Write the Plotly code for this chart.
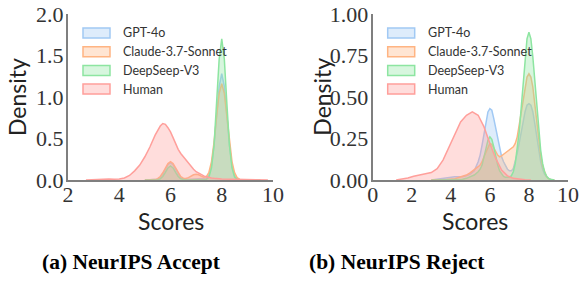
import plotly.graph_objects as go

# ---------------- data ----------------
series_names = ["GPT-4o", "Claude-3.7-Sonnet", "DeepSeep-V3", "Human"]
line_colors = ["#a1c9f4", "#ffb482", "#8de5a1", "#ff9f9b"]
fill_colors = ["rgba(161,201,244,0.35)", "rgba(255,180,130,0.35)",
               "rgba(141,229,161,0.35)", "rgba(255,159,155,0.35)"]

# (a) NeurIPS Accept
x_ai_accept = [5.0, 5.4, 5.5, 5.6, 5.7, 5.8, 5.9, 6.0, 6.1, 6.2, 6.3, 6.4,
               6.5, 6.6, 6.7, 6.8, 6.9, 7.0, 7.1, 7.2, 7.3, 7.4,
               7.5, 7.6, 7.7, 7.8, 7.9, 8.0, 8.1, 8.2, 8.3, 8.4, 8.5, 8.6, 8.7,
               9.0, 9.5]
gpt_accept = [0.0, 0.002, 0.009, 0.028, 0.068, 0.127, 0.185, 0.21, 0.185, 0.127, 0.068, 0.028,
              0.012, 0.008, 0.008, 0.01, 0.012, 0.013, 0.012, 0.01, 0.012, 0.022,
              0.06, 0.175, 0.416, 0.777, 1.129, 1.28, 1.129, 0.777, 0.416, 0.173, 0.056, 0.014, 0.003,
              0.0, 0.0]
claude_accept = [0.0, 0.005, 0.017, 0.042, 0.087, 0.146, 0.198, 0.22, 0.198, 0.146, 0.087, 0.042,
                 0.022, 0.018, 0.028, 0.046, 0.063, 0.07, 0.063, 0.046, 0.035, 0.041,
                 0.093, 0.222, 0.458, 0.768, 1.046, 1.16, 1.046, 0.768, 0.458, 0.222, 0.088, 0.028, 0.007,
                 0.0, 0.0]
deepseek_accept = [0.0, 0.0, 0.004, 0.014, 0.042, 0.092, 0.146, 0.17, 0.146, 0.092, 0.042, 0.014,
                   0.004, 0.001, 0.0, 0.0, 0.0, 0.0, 0.0, 0.0, 0.001, 0.007,
                   0.036, 0.145, 0.42, 0.92, 1.46, 1.70, 1.46, 0.92, 0.42, 0.145, 0.036, 0.007, 0.001,
                   0.0, 0.0]
x_human_accept = [2.7, 3.0, 3.2, 3.4, 3.6, 3.8, 4.0, 4.2, 4.4, 4.6, 4.8,
                  5.0, 5.2, 5.4, 5.6,
                  5.7, 5.8, 5.9, 6.0, 6.1, 6.2, 6.3, 6.4, 6.5, 6.6, 6.7, 6.8, 6.9, 7.0,
                  7.1, 7.2, 7.3, 7.4, 7.5, 7.6, 7.7, 7.8,
                  8.0, 8.5, 9.0, 9.5, 9.8]
human_accept = [0.0, 0.006, 0.01, 0.012, 0.011, 0.01, 0.012, 0.025, 0.055, 0.11, 0.18,
                0.28, 0.40, 0.54, 0.65,
                0.68, 0.67, 0.63, 0.58, 0.51, 0.43, 0.37, 0.32, 0.28, 0.24, 0.20, 0.17, 0.13, 0.10,
                0.08, 0.06, 0.05, 0.04, 0.03, 0.025, 0.02, 0.016,
                0.012, 0.008, 0.005, 0.002, 0.0]

# (b) NeurIPS Reject
x_ai_reject = [3.0, 3.4, 3.8, 4.2, 4.6, 4.8, 5.0, 5.2, 5.4,
               5.5, 5.6, 5.7, 5.8, 5.9, 6.0, 6.1, 6.2, 6.3, 6.4,
               6.5, 6.6, 6.7, 6.8, 6.9, 7.0, 7.1, 7.2, 7.3, 7.4,
               7.5, 7.6, 7.7, 7.8, 7.9, 8.0, 8.1, 8.2, 8.3, 8.4,
               8.5, 8.6, 8.7, 8.8, 8.9, 9.0, 9.1, 9.3]
gpt_reject = [0.0, 0.008, 0.016, 0.02, 0.02, 0.025, 0.035, 0.055, 0.11,
              0.15, 0.21, 0.28, 0.35, 0.41, 0.43, 0.42, 0.37, 0.31, 0.24,
              0.18, 0.14, 0.11, 0.085, 0.065, 0.055, 0.055, 0.07, 0.11, 0.16,
              0.22, 0.29, 0.36, 0.41, 0.45, 0.46, 0.45, 0.41, 0.34, 0.26,
              0.18, 0.11, 0.065, 0.035, 0.018, 0.008, 0.003, 0.0]
claude_reject = [0.0, 0.0, 0.003, 0.008, 0.02, 0.03, 0.045, 0.06, 0.08,
                 0.09, 0.11, 0.14, 0.17, 0.2, 0.22, 0.215, 0.195, 0.17, 0.15,
                 0.14, 0.145, 0.155, 0.165, 0.175, 0.18, 0.19, 0.2, 0.22, 0.26,
                 0.33, 0.41, 0.49, 0.56, 0.62, 0.64, 0.62, 0.56, 0.46, 0.35,
                 0.24, 0.15, 0.085, 0.045, 0.02, 0.009, 0.003, 0.0]
deepseek_reject = [0.0, 0.0, 0.0, 0.0, 0.004, 0.01, 0.018, 0.03, 0.05,
                   0.065, 0.09, 0.14, 0.19, 0.24, 0.26, 0.245, 0.2, 0.14, 0.09,
                   0.055, 0.035, 0.022, 0.016, 0.015, 0.018, 0.025, 0.05, 0.1, 0.18,
                   0.29, 0.43, 0.59, 0.74, 0.85, 0.89, 0.85, 0.74, 0.59, 0.43,
                   0.29, 0.18, 0.1, 0.05, 0.025, 0.01, 0.004, 0.0]
x_human_reject = [1.2, 1.5, 1.8, 2.1, 2.4, 2.7, 3.0, 3.3, 3.6, 3.9, 4.2, 4.5,
                  4.8, 5.1, 5.4, 5.7, 6.0, 6.3, 6.6, 6.9, 7.2, 7.5, 7.8, 8.1]
human_reject = [0.0, 0.004, 0.012, 0.022, 0.032, 0.038, 0.045, 0.068, 0.12, 0.2, 0.28, 0.35,
                0.39, 0.41, 0.39, 0.32, 0.22, 0.13, 0.06, 0.025, 0.01, 0.004, 0.001, 0.0]

accept_x = [x_ai_accept, x_ai_accept, x_ai_accept, x_human_accept]
accept_y = [gpt_accept, claude_accept, deepseek_accept, human_accept]
reject_x = [x_ai_reject, x_ai_reject, x_ai_reject, x_human_reject]
reject_y = [gpt_reject, claude_reject, deepseek_reject, human_reject]

x_ticks_accept = [2, 4, 6, 8, 10]
y_ticks_accept = [0.0, 0.5, 1.0, 1.5, 2.0]
x_ticks_reject = [0, 2, 4, 6, 8, 10]
y_ticks_reject = [0.0, 0.25, 0.50, 0.75, 1.00]
captions = ["(a) NeurIPS Accept", "(b) NeurIPS Reject"]

# ---------------- layout helpers (pixel -> paper) ----------------
W, H = 580, 284
def px(x):
    return x / W
def py(y):
    return 1 - y / H

fig = go.Figure()

panels = [("x", "y", accept_x, accept_y), ("x2", "y2", reject_x, reject_y)]
for xa, ya, xs, ys in panels:
    for i in range(4):
        fig.add_trace(go.Scatter(
            x=xs[i], y=ys[i], xaxis=xa, yaxis=ya, mode="lines",
            line=dict(color=line_colors[i], width=1.5),
            fill="tozeroy", fillcolor=fill_colors[i],
            showlegend=False, hoverinfo="skip"))

tick_font = dict(family="Liberation Serif", size=22, color="#333333")
axis_common = dict(showgrid=False, zeroline=False, showline=True, linecolor="#7f7f7f",
                   linewidth=2, ticks="", ticklen=0, tickfont=tick_font, automargin=False)

panel_left = [68, 372.7]
panel_width = 205
left_dom = [px(68), px(273)]
right_dom = [px(372.7), px(568)]
y_dom = [py(180), py(14)]

fig.update_layout(
    width=W, height=H,
    margin=dict(l=0, r=0, t=0, b=0, pad=0, autoexpand=False),
    paper_bgcolor="white", plot_bgcolor="white", showlegend=False,
    xaxis=dict(domain=left_dom, range=[2, 10], tickvals=x_ticks_accept,
               anchor="y", ticklabelstandoff=-6, **axis_common),
    yaxis=dict(domain=y_dom, range=[0, 2.0], tickvals=y_ticks_accept, tickformat=".1f",
               anchor="x", ticklabelstandoff=-2, **axis_common),
    xaxis2=dict(domain=right_dom, range=[0, 10], tickvals=x_ticks_reject,
                anchor="y2", ticklabelstandoff=-6, **axis_common),
    yaxis2=dict(domain=y_dom, range=[0, 1.0], tickvals=y_ticks_reject, tickformat=".2f",
                anchor="x2", ticklabelstandoff=-2, **axis_common),
)

title_font = dict(family="Lato", size=23, color="#222222")
caption_centers = [131, 397]
annotations = []
shapes = []
for k, x0 in enumerate(panel_left):
    x1 = x0 + panel_width
    annotations.append(dict(x=px(x0 - 51), y=py(97), xref="paper", yref="paper",
                            text="Density", textangle=-90, showarrow=False,
                            font=title_font, xanchor="center", yanchor="middle"))
    annotations.append(dict(x=px((x0 + x1) / 2), y=py(221), xref="paper", yref="paper",
                            text="Scores", showarrow=False, font=title_font,
                            xanchor="center", yanchor="middle"))
    annotations.append(dict(x=px(caption_centers[k]), y=py(262), xref="paper", yref="paper",
                            text="<b>" + captions[k] + "</b>", showarrow=False,
                            font=dict(family="Liberation Serif", size=21.5, color="black"),
                            xanchor="center", yanchor="middle"))
    for i, name in enumerate(series_names):
        cy = 33 + i * 18.7
        shapes.append(dict(type="rect", xref="paper", yref="paper",
                           x0=px(x0 + 15), x1=px(x0 + 42), y0=py(cy - 5), y1=py(cy + 5),
                           line=dict(color=line_colors[i], width=1.5),
                           fillcolor=fill_colors[i]))
        annotations.append(dict(x=px(x0 + 53), y=py(cy), xref="paper", yref="paper",
                                text=name, showarrow=False,
                                font=dict(family="Lato", size=12.5, color="#333333"),
                                xanchor="left", yanchor="middle"))

fig.update_layout(annotations=annotations, shapes=shapes)
fig.write_html("out.html", config={"displayModeBar": False},
               post_script="document.body.style.margin='0';document.body.style.overflow='hidden';")
